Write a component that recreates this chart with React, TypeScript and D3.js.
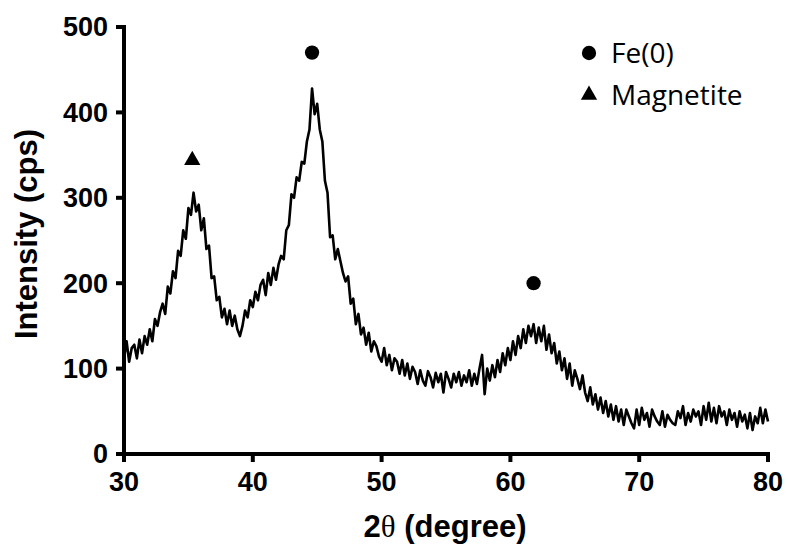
import React, { useRef, useEffect } from "react";
import * as d3 from "d3";

// XRD scan, 30-80 deg in 0.2 deg steps, intensity
const counts30to40 = [
  112, 132, 108, 124, 128, 112, 134, 118, 138, 128,
  146, 132, 158, 150, 166, 176, 164, 196, 188, 214,
  206, 238, 232, 262, 252, 288, 280, 306, 284, 292,
  262, 276, 240, 244, 206, 208, 180, 184, 160, 170,
  152, 168, 150, 162, 146, 138, 150, 168, 160, 180,
];
const counts40to50 = [
  172, 190, 180, 198, 204, 186, 212, 198, 218, 204,
  222, 232, 228, 262, 268, 304, 300, 324, 320, 342,
  340, 366, 380, 428, 398, 410, 380, 366, 320, 306,
  254, 256, 228, 240, 226, 212, 202, 208, 176, 182,
  152, 164, 140, 148, 128, 142, 120, 132, 126, 114,
];
const counts50to60 = [
  108, 124, 104, 116, 98, 112, 108, 94, 110, 92,
  106, 88, 102, 96, 82, 98, 86, 80, 97, 90,
  78, 95, 84, 94, 72, 96, 88, 78, 94, 84,
  96, 80, 92, 84, 98, 80, 94, 82, 100, 116,
  70, 100, 86, 104, 90, 110, 96, 118, 104, 124,
];
const counts60to70 = [
  110, 132, 116, 138, 124, 146, 130, 150, 138, 152,
  130, 148, 132, 150, 122, 140, 118, 130, 106, 120,
  98, 112, 88, 106, 80, 98, 88, 76, 92, 72,
  62, 78, 58, 70, 52, 66, 48, 62, 44, 58,
  40, 56, 38, 52, 34, 52, 44, 36, 30, 52,
];
const counts70to80 = [
  34, 54, 40, 48, 32, 52, 44, 38, 34, 50,
  32, 46, 40, 36, 34, 50, 42, 56, 34, 48,
  38, 52, 44, 50, 34, 56, 40, 60, 38, 54,
  36, 56, 44, 50, 34, 52, 40, 48, 32, 50,
  38, 46, 30, 48, 28, 44, 36, 54, 36, 52,
  38,
];
const intensity = [
  ...counts30to40,
  ...counts40to50,
  ...counts50to60,
  ...counts60to70,
  ...counts70to80,
];
const scanStart = 30;
const scanStep = 0.2;

const xTicks = [30, 40, 50, 60, 70, 80];
const yTicks = [0, 100, 200, 300, 400, 500];

// phase markers above the peaks
const peakAngles = [35.3, 44.6, 61.8];
const peakHeights = [344, 470, 200];
const peakPhases = ["Magnetite", "Fe(0)", "Fe(0)"];
const legendPhases = ["Fe(0)", "Magnetite"];

const W = 790;
const H = 553;
const AXIS_W = 4;
const TICK = 8;

function symbolFor(phase: string) {
  return phase === "Fe(0)"
    ? d3.symbol().type(d3.symbolCircle).size(160)()
    : d3.symbol().type(d3.symbolTriangle).size(115)();
}

export default function App() {
  const ref = useRef<SVGSVGElement>(null);

  useEffect(() => {
    const svg = d3.select(ref.current);
    svg.selectAll("*").remove();

    const x = d3.scaleLinear().domain([30, 80]).range([124, 768]);
    const y = d3.scaleLinear().domain([0, 500]).range([454, 27]);
    const tickFont = "'Liberation Sans', Arial, sans-serif";

    const points = intensity.map((v, i) => ({
      a: scanStart + i * scanStep,
      v,
    }));

    const line = d3
      .line<{ a: number; v: number }>()
      .x((d) => x(d.a))
      .y((d) => y(d.v));

    svg
      .append("path")
      .datum(points)
      .attr("fill", "none")
      .attr("stroke", "#000")
      .attr("stroke-width", 2.6)
      .attr("stroke-linejoin", "round")
      .attr("d", line);

    // axes: heavy lines like the Prism export
    const axes = svg.append("g").attr("stroke", "#000").attr("stroke-width", AXIS_W);
    axes
      .append("line")
      .attr("x1", x(30))
      .attr("x2", x(30))
      .attr("y1", y(0) + AXIS_W / 2)
      .attr("y2", y(500) - AXIS_W / 2);
    axes
      .append("line")
      .attr("x1", x(30) - AXIS_W / 2)
      .attr("x2", x(80) + AXIS_W / 2)
      .attr("y1", y(0))
      .attr("y2", y(0));
    axes
      .selectAll("line.xtick")
      .data(xTicks)
      .join("line")
      .attr("class", "xtick")
      .attr("x1", (d) => x(d))
      .attr("x2", (d) => x(d))
      .attr("y1", y(0))
      .attr("y2", y(0) + TICK);
    axes
      .selectAll("line.ytick")
      .data(yTicks)
      .join("line")
      .attr("class", "ytick")
      .attr("x1", x(30) - TICK)
      .attr("x2", x(30))
      .attr("y1", (d) => y(d))
      .attr("y2", (d) => y(d));

    svg
      .append("g")
      .selectAll("text")
      .data(xTicks)
      .join("text")
      .attr("x", (d) => x(d))
      .attr("y", y(0) + 37)
      .attr("text-anchor", "middle")
      .style("font-family", tickFont)
      .style("font-weight", "bold")
      .style("font-size", "27px")
      .text((d) => d);

    svg
      .append("g")
      .selectAll("text")
      .data(yTicks)
      .join("text")
      .attr("x", x(30) - 16)
      .attr("y", (d) => y(d))
      .attr("dy", "0.35em")
      .attr("text-anchor", "end")
      .style("font-family", tickFont)
      .style("font-weight", "bold")
      .style("font-size", "27px")
      .text((d) => d);

    svg
      .append("text")
      .attr("transform", "translate(37,234) rotate(-90)")
      .attr("text-anchor", "middle")
      .style("font-family", tickFont)
      .style("font-weight", "bold")
      .style("font-size", "31px")
      .text("Intensity (cps)");

    const xt = svg
      .append("text")
      .attr("x", 445)
      .attr("y", 537)
      .attr("text-anchor", "middle")
      .style("font-family", tickFont)
      .style("font-weight", "bold")
      .style("font-size", "31px");
    xt.append("tspan").text("2");
    xt.append("tspan")
      .style("font-family", "'Liberation Serif', 'Times New Roman', serif")
      .style("font-weight", "normal")
      .text("θ");
    xt.append("tspan").text(" (degree)");

    svg
      .append("g")
      .selectAll("path")
      .data(peakAngles)
      .join("path")
      .attr("d", (_, i) => symbolFor(peakPhases[i]))
      .attr(
        "transform",
        (d, i) => `translate(${x(d)},${y(peakHeights[i])})`
      )
      .attr("fill", "#000");

    const legend = svg
      .append("g")
      .selectAll("g")
      .data(legendPhases)
      .join("g")
      .attr("transform", (_, i) => `translate(589,${53 + i * 42})`);
    legend
      .append("path")
      .attr("d", (d) => symbolFor(d))
      .attr("fill", "#000");
    legend
      .append("text")
      .attr("x", 22)
      .attr("y", 10)
      .style("font-family", "'Open Sans', sans-serif")
      .style("font-size", "28px")
      .attr("fill", "#000")
      .text((d) => d);
  }, []);

  return (
    <svg
      ref={ref}
      width={W}
      height={H}
      style={{ position: "absolute", left: 0, top: 0, background: "#fff" }}
    ></svg>
  );
}
